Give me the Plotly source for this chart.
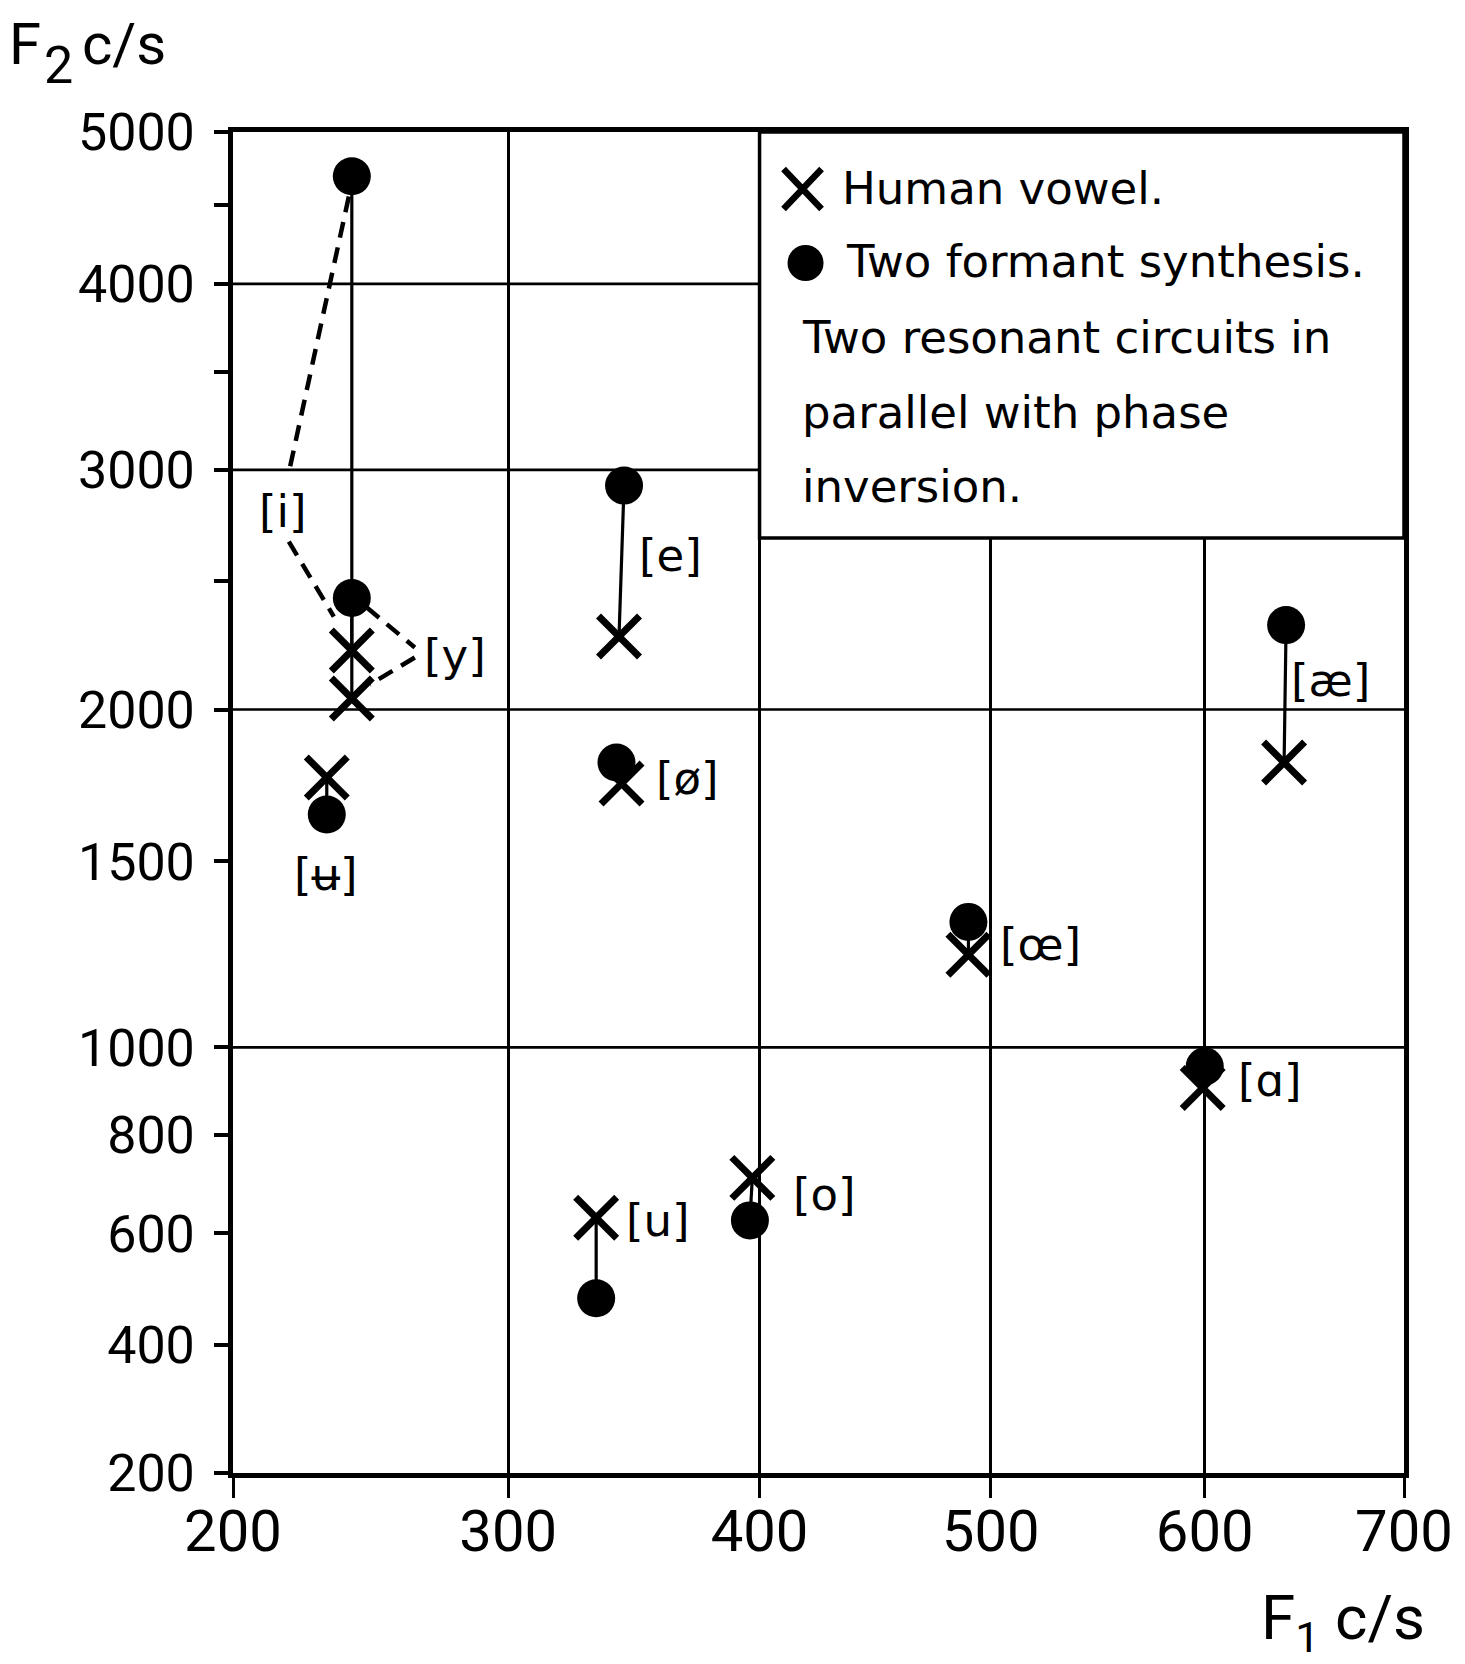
import math
import plotly.graph_objects as go

# ---------------- data ----------------
vowels = ["i", "y", "ʉ", "e", "ø", "æ", "œ", "ɑ", "u", "o"]
human_f1 = [242, 242, 233, 343, 344, 639, 490, 599, 334, 397]
human_f2 = [2220, 2040, 1765, 2275, 1745, 1815, 1235, 905, 630, 710]
synth_f1 = [242, 242, 233, 345, 342, 640, 490, 600, 334, 396]
synth_f2 = [4690, 2430, 1645, 2925, 1815, 2320, 1325, 955, 480, 625]

f1_ticks = [200, 300, 400, 500, 600, 700]
f2_ticks = [200, 400, 600, 800, 1000, 1500, 2000, 3000, 4000, 5000]
f2_minor_ticks = [2500, 3500, 4500]
f2_grid = [1000, 2000, 3000, 4000]

legend_lines = ["Human vowel.", "Two formant synthesis.",
                "Two resonant circuits in", "parallel with phase", "inversion."]

# ---------------- scale: frequency plotted as log(f + offset) ----------------
X_OFF = 800
Y_OFF = 1000
def xs(v): return v + X_OFF
def ys(v): return v + Y_OFF

# ---------------- layout geometry (pixels) ----------------
PAGE = 8                      # default body margin of the html page
W, H = 1457, 1656
L, R, T, B = 225, 58, 124, 191
PW, PH = W - L - R, H - T - B
FONT = "Roboto"
TFONT = "DejaVu Sans"

def px(x): return (x - PAGE - L) / PW          # page pixel -> paper
def py(y): return (H - B - (y - PAGE)) / PH

# label offsets from the human-vowel marker (pixels, y up)
label_dx = [-69, 103, -1, 51, 66, 46, 72, 67, 62, 72]
label_dy = [139, 43, -97, 81, 5, 82, 10, 7, -3, -17]

fig = go.Figure()

# connecting solid lines between synthesis and human points
for k in range(len(vowels)):
    fig.add_trace(go.Scatter(
        x=[xs(synth_f1[k]), xs(human_f1[k])],
        y=[ys(synth_f2[k]), ys(human_f2[k])],
        mode="lines", line=dict(color="black", width=3.2),
        showlegend=False, hoverinfo="skip"))

fig.add_trace(go.Scatter(
    x=[xs(v) for v in human_f1], y=[ys(v) for v in human_f2],
    mode="markers", name="Human vowel.",
    marker=dict(symbol="x-thin", size=41, color="black",
                line=dict(color="black", width=7)),
    showlegend=False))
fig.add_trace(go.Scatter(
    x=[xs(v) for v in synth_f1], y=[ys(v) for v in synth_f2],
    mode="markers", name="Two formant synthesis.",
    marker=dict(symbol="circle", size=38, color="black", line=dict(width=0)),
    showlegend=False))

# vowel labels
for k, v in enumerate(vowels):
    fig.add_annotation(
        x=math.log10(xs(human_f1[k])), y=math.log10(ys(human_f2[k])),
        xref="x", yref="y", text="[" + v + "]", showarrow=False,
        xshift=label_dx[k], yshift=label_dy[k],
        font=dict(family=TFONT, size=45, color="black"))

shapes = []
# horizontal grid lines
for v in f2_grid:
    shapes.append(dict(type="line", xref="paper", yref="y", x0=0, x1=1,
                       y0=ys(v), y1=ys(v), line=dict(color="black", width=2.6),
                       layer="below"))

# dashed leader lines for [i] and [y], anchored on their human-vowel markers
leaders = {0: "M -3,454 L -63,178 M -63,109 L -18,34",
           1: "M 15,91 L 63,51 M 63,41 L 18,14"}
for k, path in leaders.items():
    shapes.append(dict(type="path", xref="x", yref="y",
                       xsizemode="pixel", ysizemode="pixel",
                       xanchor=xs(human_f1[k]), yanchor=ys(human_f2[k]),
                       path=path, line=dict(color="black", width=4.5, dash="16px,10px"),
                       layer="above"))

# legend box (covers grid), from the 400 gridline to the right frame
lx0 = (math.log10(xs(400)) - math.log10(xs(200))) / (math.log10(xs(700)) - math.log10(xs(200)))
shapes.append(dict(type="rect", xref="paper", yref="paper",
                   x0=lx0, x1=1, y0=py(538), y1=1,
                   fillcolor="white", line=dict(color="black", width=3.5),
                   layer="above"))
# legend symbols
shapes.append(dict(type="path", xref="paper", yref="paper",
                   xsizemode="pixel", ysizemode="pixel",
                   xanchor=px(804), yanchor=py(189),
                   path="M -19,-20 L 19,20 M -19,20 L 19,-20",
                   line=dict(color="black", width=6.5), layer="above"))
shapes.append(dict(type="circle", xref="paper", yref="paper",
                   xsizemode="pixel", ysizemode="pixel",
                   xanchor=px(807), yanchor=py(263),
                   x0=-18, x1=18, y0=-18, y1=18,
                   fillcolor="black", line=dict(color="black", width=0), layer="above"))

# legend text
leg_pos = [(842, 188), (846, 262), (801, 337), (801, 412), (801, 486)]
for (tx, ty), txt in zip(leg_pos, legend_lines):
    fig.add_annotation(xref="paper", yref="paper", x=px(tx), y=py(ty),
                       xanchor="left", yanchor="middle", text=txt, showarrow=False,
                       font=dict(family=TFONT, size=45, color="black"))

# y-axis title "F2 c/s" (F, subscript 2, c/s), kept inside the page top
top = py(PAGE)
fig.add_annotation(xref="paper", yref="paper", x=px(6), y=top,
                   xanchor="left", yanchor="top", text="F", showarrow=False,
                   font=dict(family=FONT, size=58, color="black"))
fig.add_annotation(xref="paper", yref="paper", x=px(42), y=py(66),
                   xanchor="left", yanchor="middle", text="2", showarrow=False,
                   font=dict(family=FONT, size=52, color="black"))
fig.add_annotation(xref="paper", yref="paper", x=px(80), y=top,
                   xanchor="left", yanchor="top", text="c/s", showarrow=False,
                   font=dict(family=FONT, size=58, color="black"))
# x-axis title
fig.add_annotation(xref="paper", yref="paper", x=px(1262), y=py(1622),
                   xanchor="left", yanchor="middle",
                   text="F<sub>1</sub> c/s", showarrow=False,
                   font=dict(family=FONT, size=62, color="black"))

fig.update_layout(
    width=W, height=H,
    margin=dict(l=L, r=R, t=T, b=B),
    paper_bgcolor="white", plot_bgcolor="white",
    showlegend=False, shapes=shapes,
    font=dict(family=FONT, color="black"),
)

fig.update_xaxes(
    type="log",
    range=[math.log10(xs(200)), math.log10(xs(700))],
    tickmode="array", tickvals=[xs(v) for v in f1_ticks],
    ticktext=[str(v) for v in f1_ticks],
    tickfont=dict(family=FONT, size=58, color="black"),
    ticks="outside", ticklen=20, tickwidth=3, tickcolor="black",
    ticklabelstandoff=-16,
    showgrid=True, gridcolor="black", gridwidth=2.6,
    showline=True, linecolor="black", linewidth=4.5, mirror=True,
    zeroline=False,
)
fig.update_yaxes(
    type="log",
    range=[math.log10(ys(200)), math.log10(ys(5000))],
    tickmode="array", tickvals=[ys(v) for v in f2_ticks],
    ticktext=[str(v) for v in f2_ticks],
    tickfont=dict(family=FONT, size=52, color="black"),
    ticks="outside", ticklen=14, tickwidth=3.5, tickcolor="black",
    ticklabelstandoff=9,
    showgrid=False,
    minor=dict(tickvals=[ys(v) for v in f2_minor_ticks], ticks="outside",
               ticklen=14, tickwidth=3.5, tickcolor="black", showgrid=False),
    showline=True, linecolor="black", linewidth=4.5, mirror=True,
    zeroline=False,
)

fig.write_html("out.html")
